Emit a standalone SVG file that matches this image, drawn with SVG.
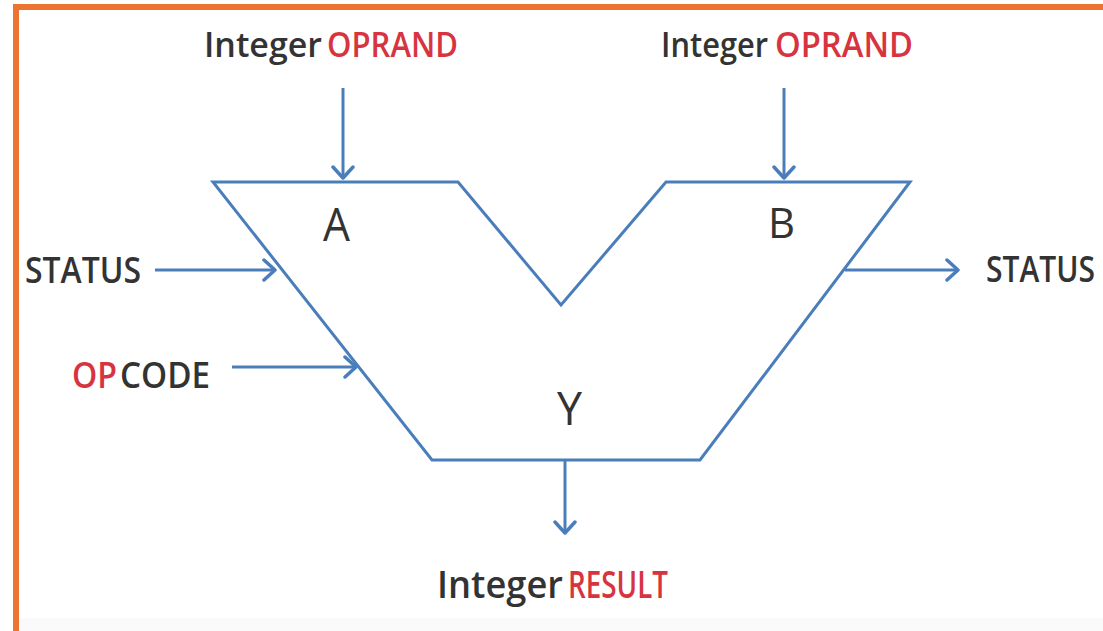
<svg xmlns="http://www.w3.org/2000/svg" width="1103" height="631" viewBox="0 0 1103 631">
<defs>
<marker id="arr" markerUnits="userSpaceOnUse" markerWidth="24" markerHeight="24" viewBox="-14 -12 16 24" refX="0" refY="0" orient="auto">
<path d="M-11,-10 L0,0 L-11,10" fill="none" stroke="#4a7ebb" stroke-width="3.5" stroke-linecap="round" stroke-linejoin="round"/>
</marker>
</defs>
<style>
.t{font-family:"Open Sans","Liberation Sans",sans-serif;fill:#333;font-weight:600;}
.n{font-weight:400;}
.r{fill:#d8343f;}
.c{stroke:#4a7ebb;stroke-width:3;fill:none;marker-end:url(#arr);}
.s{stroke:#4a7ebb;stroke-width:3;fill:none;stroke-linejoin:miter;}
</style>
<rect x="0" y="0" width="1103" height="631" fill="#ffffff"/>
<rect x="19" y="618" width="1084" height="13" fill="#fafafa"/>
<path d="M16,631 L16,7 L1103,7" fill="none" stroke="#ed7430" stroke-width="6"/>
<g id="alu">
<polygon class="s" points="213,182 458,182 561,305 666,182 910,182 700,460 432,460"/>
<text class="t n" x="323" y="241" font-size="45" textLength="27" lengthAdjust="spacingAndGlyphs">A</text>
<text class="t n" x="768" y="238" font-size="42" textLength="27" lengthAdjust="spacingAndGlyphs">B</text>
<text class="t n" x="557" y="425" font-size="45" textLength="25" lengthAdjust="spacingAndGlyphs">Y</text>
</g>
<g id="opA">
<text class="t" x="204" y="57" font-size="34" textLength="118" lengthAdjust="spacingAndGlyphs">Integer</text>
<text class="t r" x="327" y="57" font-size="34" textLength="131" lengthAdjust="spacingAndGlyphs">OPRAND</text>
</g>
<g id="opB">
<text class="t" x="661" y="57" font-size="34" textLength="107" lengthAdjust="spacingAndGlyphs">Integer</text>
<text class="t r" x="775" y="57" font-size="34" textLength="138" lengthAdjust="spacingAndGlyphs">OPRAND</text>
</g>
<g id="statusIn">
<text class="t" x="25" y="283" font-size="36" textLength="116" lengthAdjust="spacingAndGlyphs">STATUS</text>
</g>
<g id="opcode">
<text class="t r" x="72" y="388" font-size="36" textLength="45" lengthAdjust="spacingAndGlyphs">OP</text>
<text class="t" x="120" y="388" font-size="36" textLength="90" lengthAdjust="spacingAndGlyphs">CODE</text>
</g>
<g id="statusOut">
<text class="t" transform="translate(986,282) scale(1,1.2)" x="0" y="0" font-size="30">STATUS</text>
</g>
<g id="result">
<text class="t" x="437" y="598" font-size="38" textLength="126" lengthAdjust="spacingAndGlyphs">Integer</text>
<text class="t r" x="568" y="598" font-size="38" textLength="100" lengthAdjust="spacingAndGlyphs">RESULT</text>
</g>
<g id="connectors">
<line class="c" x1="343" y1="88" x2="343" y2="178"/>
<line class="c" x1="784" y1="88" x2="784" y2="178"/>
<line class="c" x1="155" y1="270" x2="275" y2="270"/>
<line class="c" x1="232" y1="367" x2="356" y2="367"/>
<line class="c" x1="845" y1="270" x2="958" y2="270"/>
<line class="c" x1="565" y1="460" x2="565" y2="533"/>
</g>
</svg>
